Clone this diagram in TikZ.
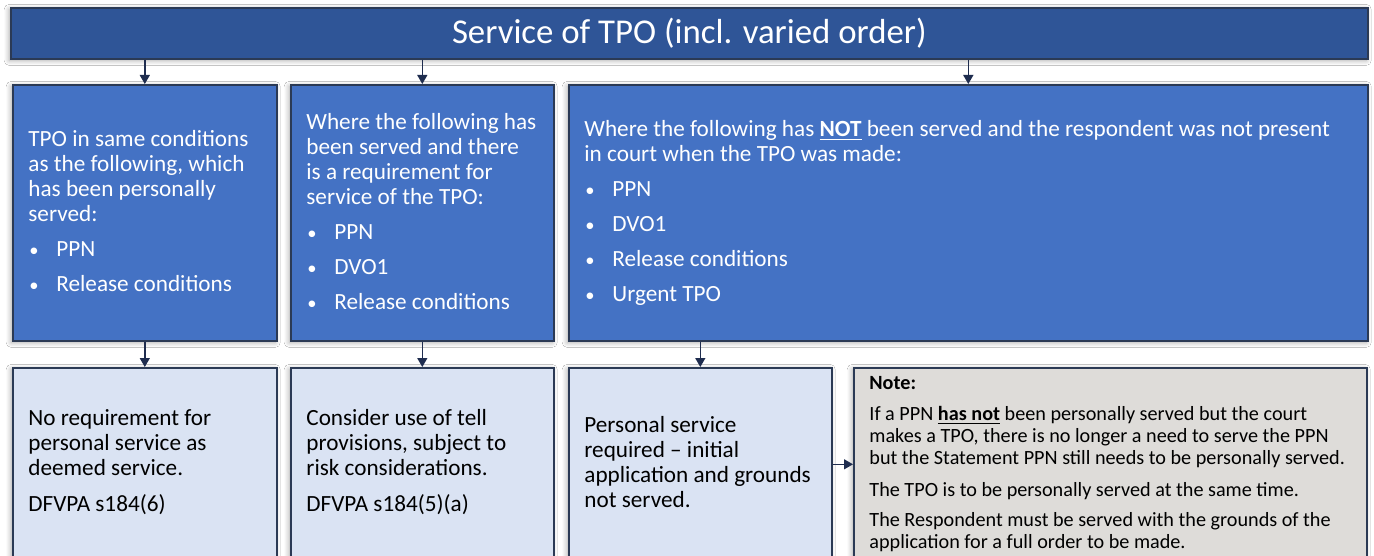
\documentclass[tikz,border=0pt]{standalone}
\usepackage{fontspec}
\setmainfont{Carlito}
\usetikzlibrary{arrows.meta,shadows.blur,calc}
\definecolor{titlefill}{HTML}{2F5597}
\definecolor{darkblue}{HTML}{4472C4}
\definecolor{lightblue}{HTML}{DAE3F3}
\definecolor{notegray}{HTML}{DEDCD9}
\definecolor{edgec}{HTML}{2B3A55}
\definecolor{arrowc}{HTML}{1F2D4F}
\newcommand{\bul}[1]{\makebox[14pt][l]{\hspace{0.5pt}\scalebox{0.8}{•}}#1}
\begin{document}
\begin{tikzpicture}[x=0.5pt,y=-0.5pt,
  box/.style={draw=edgec, line width=0.8pt, rectangle, inner sep=0pt, anchor=north west,
    blur shadow={shadow xshift=-0.8pt, shadow yshift=-0.8pt, shadow blur radius=2.5pt, shadow blur steps=6, shadow opacity=35}},
  darkbox/.style={box, fill=darkblue},
  lightbox/.style={box, fill=lightblue},
  notebox/.style={box, fill=notegray},
  txt/.style={anchor=west, align=left, inner sep=0pt, font=\fontsize{11.6}{12.5}\selectfont},
  wtxt/.style={txt, text=white},
  ntxt/.style={anchor=west, align=left, inner sep=0pt, font=\fontsize{10.1}{11}\selectfont, text=black},
  arr/.style={draw=arrowc, line width=0.7pt, -{Triangle[length=4.5pt,width=5pt]}}
]
\useasboundingbox (0,0) rectangle (1374,556);
\clip (0,0) rectangle (1374,556);
\fill[white] (0,0) rectangle (1374,556);

% title
\node[box, fill=titlefill, minimum width=678.5pt, minimum height=25.5pt,
      text=white, font=\fontsize{17.4}{20}\selectfont] (title) at (10,7) {Service of TPO (incl. varied order)};

% first row
\node[darkbox, minimum width=132pt, minimum height=128pt] (b1) at (12,84) {};
\node[darkbox, minimum width=131.5pt, minimum height=128pt] (b2) at (290,84) {};
\node[darkbox, minimum width=399.5pt, minimum height=128pt] (b3) at (568,84) {};

\node[wtxt] (t1) at ($(b1.west)+(16,-2)$) {TPO in same conditions\\as the following, which\\has been personally\\served:\\[5pt]\bul{PPN}\\[5pt]\bul{Release conditions}};
\node[wtxt] (t2) at ($(b2.west)+(16,-1)$) {Where the following has\\been served and there\\is a requirement for\\service of the TPO:\\[5pt]\bul{PPN}\\[5pt]\bul{DVO1}\\[5pt]\bul{Release conditions}};
\node[wtxt] (t3) at ($(b3.west)+(16,0)$) {Where the following has \underline{\textbf{NOT}} been served and the respondent was not present\\in court when the TPO was made:\\[5pt]\bul{PPN}\\[5pt]\bul{DVO1}\\[5pt]\bul{Release conditions}\\[5pt]\bul{Urgent TPO}};

% second row
\node[lightbox, minimum width=132pt, minimum height=96.5pt] (b4) at (12,367) {};
\node[lightbox, minimum width=131.5pt, minimum height=96.5pt] (b5) at (290,367) {};
\node[lightbox, minimum width=131.5pt, minimum height=96.5pt] (b6) at (568,367) {};
\node[notebox, minimum width=256.5pt, minimum height=96.5pt] (note) at (853,367) {};

\node[txt] (t4) at ($(b4.west)+(16,-2)$) {No requirement for\\personal service as\\deemed service.\\[5.5pt]DFVPA s184(6)};
\node[txt] (t5) at ($(b5.west)+(16,-2)$) {Consider use of tell\\provisions, subject to\\risk considerations.\\[5.5pt]DFVPA s184(5)(a)};
\node[txt] (t6) at ($(b6.west)+(16,-2)$) {Personal service\\required -- initial\\application and grounds\\not served.};
\node[ntxt] (t7) at ($(note.west)+(16,0)$) {\textbf{Note:}\\[4.5pt]If a PPN \underline{\textbf{has not}} been personally served but the court\\makes a TPO, there is no longer a need to serve the PPN\\but the Statement PPN still needs to be personally served.\\[5pt]The TPO is to be personally served at the same time.\\[4pt]The Respondent must be served with the grounds of the\\application for a full order to be made.};

% connectors
\draw[arr] (title.south -| b1.north) -- (b1.north);
\draw[arr] (title.south -| b2.north) -- (b2.north);
\draw[arr] (title.south -| b3.north) -- (b3.north);
\draw[arr] (b1.south) -- (b4.north);
\draw[arr] (b2.south) -- (b5.north);
\draw[arr] (b3.south -| b6.north) -- (b6.north);
\draw[arr] (b6.east) -- (note.west);
\end{tikzpicture}
\end{document}
